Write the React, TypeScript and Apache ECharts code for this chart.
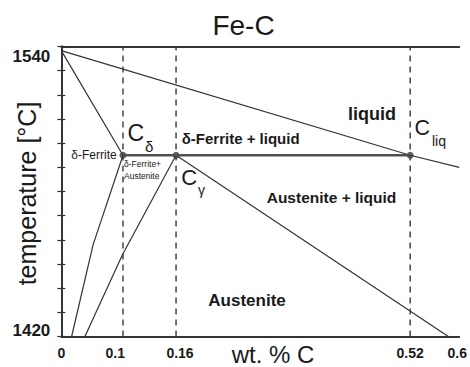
import React, { useEffect, useRef } from "react";
import * as echarts from "echarts";

const FONT = "'Liberation Sans', Arial, Helvetica, sans-serif";

// Phase-boundary data (wt.% C, °C)
const liquidusX = [0, 0.526, 0.6];
const liquidusT = [1538.3, 1495, 1490];
const deltaSolidusX = [0, 0.093];
const deltaSolidusT = [1538.3, 1495];
const deltaBoundaryX = [0.093, 0.048, 0.0156];
const deltaBoundaryT = [1495, 1458, 1420];
const gammaBoundaryX = [0.173, 0.092, 0.0356];
const gammaBoundaryT = [1495, 1453.7, 1420];
const gammaSolidusX = [0.173, 0.5835];
const gammaSolidusT = [1495, 1420];
const peritecticX = [0.093, 0.526];
const peritecticT = [1495, 1495];
const invariantX = [0.093, 0.173, 0.526]; // C_delta, C_gamma, C_liq
const invariantT = [1495, 1495, 1495];

const xLabelPos = [0, 0.0814, 0.179, 0.526, 0.597];
const xLabelText = ["0", "0.1", "0.16", "0.52", "0.6"];
const yShownLabels = [1420, 1540];
const tMin = 1420;
const tMax = 1540;
const tStep = 10;

const zip = (xs: number[], ys: number[]) => xs.map((x, i) => [x, ys[i]]);

const LINE = "#333";

function txt(
  text: string,
  x: number,
  y: number,
  size: number,
  opts: { weight?: string; align?: string; rotation?: number } = {}
) {
  const align = opts.align || "left";
  return {
    type: "text",
    x,
    y,
    rotation: opts.rotation || 0,
    silent: true,
    style: {
      text,
      fill: "#1a1a1a",
      fontSize: size,
      fontFamily: FONT,
      fontWeight: opts.weight || "normal",
      align,
      textAlign: align,
      verticalAlign: "middle",
      textVerticalAlign: "middle",
    },
  };
}

export default function App() {
  const ref = useRef<HTMLDivElement>(null);
  useEffect(() => {
    if (!ref.current) return;
    const chart = echarts.init(ref.current, undefined, { renderer: "svg" });
    const lineSeries = (xs: number[], ys: number[], width = 1.2, color = LINE) => ({
      type: "line",
      data: zip(xs, ys),
      showSymbol: false,
      symbol: "none",
      silent: true,
      lineStyle: { color, width },
    });
    const dashed = invariantX.map((x) => ({
      type: "line",
      data: [
        [x, tMin],
        [x, tMax],
      ],
      showSymbol: false,
      symbol: "none",
      silent: true,
      lineStyle: { color: "#444", width: 1.5, type: [6, 5] },
    }));
    chart.setOption({
      animation: false,
      backgroundColor: "#fff",
      grid: { left: 61.3, right: 9, top: 46.5, bottom: 30.5, containLabel: false },
      xAxis: [
        {
          type: "value",
          min: 0,
          max: 0.6,
          position: "bottom",
          splitLine: { show: false },
          axisLine: { show: true, lineStyle: { color: LINE, width: 1.8 } },
          axisTick: { show: false },
          axisLabel: {
            customValues: xLabelPos,
            formatter: (v: number) => {
              const i = xLabelPos.findIndex((p) => Math.abs(p - v) < 1e-6);
              return i >= 0 ? xLabelText[i] : "";
            },
            margin: 9,
            color: "#1a1a1a",
            fontSize: 14,
            fontWeight: "bold",
            fontFamily: FONT,
          },
        },
        {
          type: "value",
          min: 0,
          max: 0.6,
          position: "top",
          splitLine: { show: false },
          axisLine: { show: true, lineStyle: { color: LINE, width: 1.8 } },
          axisTick: { show: false },
          axisLabel: { show: false },
        },
      ],
      yAxis: [
        {
          type: "value",
          min: tMin,
          max: tMax,
          interval: tStep,
          position: "left",
          splitLine: { show: false },
          axisLine: { show: true, lineStyle: { color: LINE, width: 1.8 } },
          axisTick: { show: true, inside: true, length: 4, lineStyle: { color: LINE, width: 1.2 } },
          axisLabel: {
            margin: 11,
            formatter: (v: number) =>
              v === yShownLabels[1] ? "{t|" + v + "}" : v === yShownLabels[0] ? "{b|" + v + "}" : "",
            rich: {
              t: { fontSize: 17, fontWeight: "bold", fontFamily: FONT, color: "#1a1a1a", padding: [19, 0, 0, 0] },
              b: { fontSize: 17, fontWeight: "bold", fontFamily: FONT, color: "#1a1a1a", padding: [0, 0, 13, 0] },
            },
          },
        },
        {
          type: "value",
          min: tMin,
          max: tMax,
          interval: tStep,
          position: "right",
          splitLine: { show: false },
          axisLine: { show: true, lineStyle: { color: LINE, width: 1.8 } },
          axisTick: { show: true, inside: true, length: 4, lineStyle: { color: LINE, width: 1.2 } },
          axisLabel: { show: false },
        },
      ],
      series: [
        ...dashed,
        lineSeries(liquidusX, liquidusT),
        lineSeries(deltaSolidusX, deltaSolidusT),
        lineSeries(deltaBoundaryX, deltaBoundaryT),
        lineSeries(gammaBoundaryX, gammaBoundaryT),
        lineSeries(gammaSolidusX, gammaSolidusT),
        lineSeries(peritecticX, peritecticT, 2.6, "#505050"),
        {
          type: "scatter",
          data: zip(invariantX, invariantT),
          symbol: "circle",
          symbolSize: 7,
          silent: true,
          itemStyle: { color: "#3a3a3a" },
        },
      ],
      graphic: [
        txt("Fe-C", 243.5, 25, 28, { align: "center" }),
        txt("temperature [°C]", 27, 193.5, 25, { align: "center", rotation: Math.PI / 2 }),
        txt("wt. % C", 231.7, 354.5, 24),
        txt("C", 127.5, 132.5, 23),
        txt("δ", 145, 146, 15),
        txt("C", 181.2, 177, 22),
        txt("γ", 198, 190, 14),
        txt("C", 414.5, 128.3, 21.5),
        txt("liq", 432, 141, 14),
        txt("δ-Ferrite", 116.7, 154.5, 12, { align: "right" }),
        txt("δ-Ferrite+", 124, 164, 8.5),
        txt("Austenite", 124, 176, 8.5),
        txt("δ-Ferrite + liquid", 181.7, 138.3, 15, { weight: "bold" }),
        txt("liquid", 372, 114, 18, { weight: "bold", align: "center" }),
        txt("Austenite + liquid", 266.7, 197.3, 15.5, { weight: "bold" }),
        txt("Austenite", 208.3, 300, 17, { weight: "bold" }),
      ],
    });
    return () => chart.dispose();
  }, []);
  return (
    <div
      ref={ref}
      style={{ position: "absolute", left: 0, top: 0, width: 470, height: 367, background: "#fff" }}
    />
  );
}
